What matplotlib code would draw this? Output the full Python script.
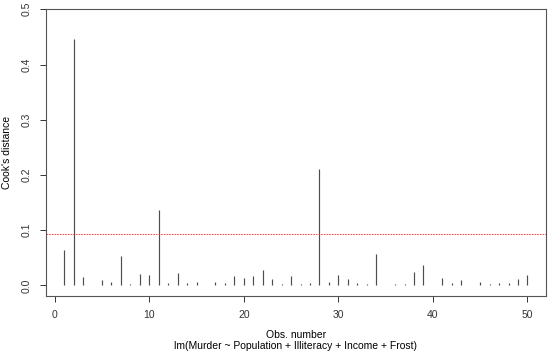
import numpy as np
import matplotlib
matplotlib.use("Agg")
import matplotlib.pyplot as plt

plt.rcParams['font.family'] = ['Liberation Sans', 'DejaVu Sans']

obs = np.arange(1, 51)
cooks_d = [0.065, 0.447, 0.016, 0.001, 0.009, 0.006, 0.053, 0.002, 0.021, 0.019,
           0.137, 0.004, 0.023, 0.004, 0.007, 0.001, 0.006, 0.005, 0.017, 0.014,
           0.017, 0.028, 0.012, 0.003, 0.017, 0.002, 0.005, 0.210, 0.006, 0.018,
           0.012, 0.005, 0.003, 0.057, 0.001, 0.002, 0.002, 0.024, 0.037, 0.001,
           0.014, 0.005, 0.010, 0.001, 0.007, 0.002, 0.004, 0.004, 0.011, 0.018]
cutoff = 4 / 43
x_ticks = [0, 10, 20, 30, 40, 50]
y_ticks = [0.0, 0.1, 0.2, 0.3, 0.4, 0.5]

fig = plt.figure(figsize=(5.54, 3.56), dpi=100, facecolor='w')
ax = fig.add_axes([0.0825, 0.1685, 0.903, 0.8054])

ax.vlines(obs, 0, cooks_d, color='#4d4d4d', lw=0.85)
ax.axhline(cutoff, color='#ff3030', lw=0.6, ls=(0, (2, 1.2)))

ymx = max(cooks_d) * 1.075
ax.set_xlim(1 - 0.04 * 49, 50 + 0.04 * 49)
ax.set_ylim(-0.04 * ymx, 1.04 * ymx)

ax.set_xticks(x_ticks)
ax.set_yticks(y_ticks)
ax.set_xticklabels([str(t) for t in x_ticks], fontsize=7.5)
ax.set_yticklabels([f"{t:.1f}" for t in y_ticks], fontsize=7.5, rotation=90, va='center')
ax.tick_params(colors='#333333', length=4, width=0.7, pad=6)
for s in ax.spines.values():
    s.set_color('#555555')
    s.set_linewidth(0.8)

ax.set_ylabel("Cook's distance", fontsize=7.5)
ax.yaxis.set_label_coords(-0.068, 0.5)
ax.set_xlabel("Obs. number\nlm(Murder ~ Population + Illiteracy + Income + Frost)",
              fontsize=7.5, labelpad=7, linespacing=1.2)

plt.savefig("out.png", dpi=100)
